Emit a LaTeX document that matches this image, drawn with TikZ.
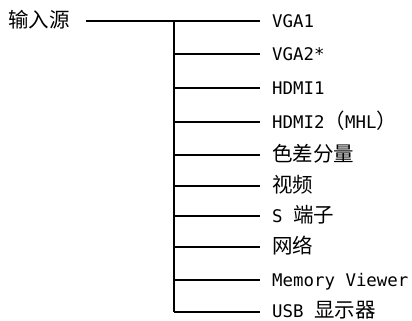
\documentclass[tikz,border=0pt]{standalone}
\usepackage{fontspec}
\setmainfont{DejaVu Sans Mono}
\newfontfamily\cjk{Noto Sans CJK SC}
\newcommand{\zh}[1]{{\cjk\fontsize{20.5pt}{24pt}\selectfont #1}}
\begin{document}
\begin{tikzpicture}[x=1pt,y=1pt,
  conn/.style={line width=2pt, black},
  lab/.style={anchor=base west, inner sep=0pt, font=\fontsize{17.4pt}{20pt}\selectfont}]
\useasboundingbox (0,0) rectangle (412,-321);
\node[lab] (root) at (8,-27.5) {\zh{输入源}};
\coordinate (rs) at (86,-21);
\coordinate (j0) at (174,-21);
\coordinate (j1) at (174,-54);
\coordinate (j2) at (174,-88);
\coordinate (j3) at (174,-122);
\coordinate (j4) at (174,-155);
\coordinate (j5) at (174,-186);
\coordinate (j6) at (174,-216);
\coordinate (j7) at (174,-247);
\coordinate (j8) at (174,-280);
\coordinate (j9) at (174,-312);
\foreach \i in {0,...,9}{
  \coordinate (e\i) at ([xshift=86pt]j\i);
}
\node[lab] (t0) at ([shift={(98,-6.5)}]j0) {VGA1};
\node[lab] (t1) at ([shift={(98,-6.5)}]j1) {VGA2*};
\node[lab] (t2) at ([shift={(98,-6.5)}]j2) {HDMI1};
\node[lab] (t3) at ([shift={(98,-6.5)}]j3) {HDMI2\zh{（}MHL\zh{）}};
\node[lab] (t4) at ([shift={(98,-6.5)}]j4) {\zh{色差分量}};
\node[lab] (t5) at ([shift={(98,-6.5)}]j5) {\zh{视频}};
\node[lab] (t6) at ([shift={(98,-6.5)}]j6) {S \zh{端子}};
\node[lab] (t7) at ([shift={(98,-6.5)}]j7) {\zh{网络}};
\node[lab] (t8) at ([shift={(98,-6.5)}]j8) {Memory Viewer};
\node[lab] (t9) at ([shift={(98,-5)}]j9) {USB \zh{显示器}};
\draw[conn] (rs) -- (e0);
\draw[conn] (j0) -- (j9);
\foreach \i in {1,...,9}{
  \draw[conn] (j\i) -- (e\i);
}
\end{tikzpicture}
\end{document}
